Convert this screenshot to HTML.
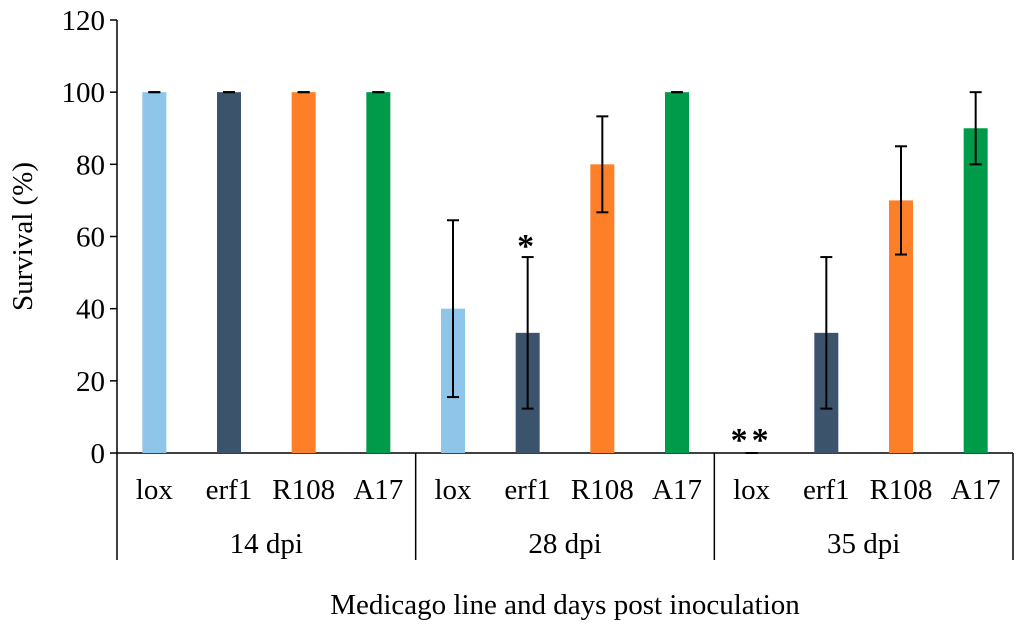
<!DOCTYPE html>
<html><head><meta charset="utf-8"><style>
body{margin:0;background:#fff;}
svg text{font-family:"Liberation Serif",serif;fill:#000;}
</style></head><body>
<svg id="chart" width="1024" height="625" xmlns="http://www.w3.org/2000/svg"></svg>
<script>
const groups = ["14 dpi","28 dpi","35 dpi"];
const lines = ["lox","erf1","R108","A17"];
const colors = ["#8ec5e8","#3b536b","#fd7f28","#009a4b"];
const values = [[100,100,100,100],[40,33.3,80,100],[0,33.3,70,90]];
const errors = [[0,0,0,0],[24.5,21,13.3,0],[0,21,15,10]];
const marks = [["","","",""],["","*","",""],["**","","",""]];
const yTicks = [0,20,40,60,80,100,120];

const svg = document.getElementById('chart');
const NS = "http://www.w3.org/2000/svg";
const x0 = 117, x1 = 1013, y0 = 453, yTop = 20, yMax = 120;
const y = v => y0 - v / yMax * (y0 - yTop);
const gW = (x1 - x0) / groups.length, sW = gW / lines.length, bw = 24;
const cx = (g, i) => x0 + g * gW + (i + 0.5) * sW;
function mk(tag, attrs, parent) {
  const e = document.createElementNS(NS, tag);
  for (const k in attrs) e.setAttribute(k, attrs[k]);
  (parent || svg).appendChild(e);
  return e;
}
function txt(s, x, yy, size, anchor, parent) {
  const t = mk('text', {x: x, y: yy, 'font-size': size, 'text-anchor': anchor || 'middle'}, parent);
  t.textContent = s;
  return t;
}
const FS = 29;
// y axis
const ya = mk('g', {});


mk('line', {x1: x0, y1: yTop, x2: x0, y2: y0, stroke: '#000', 'stroke-width': 1.5}, ya);
yTicks.forEach(v => {
  mk('line', {x1: x0 - 7, y1: y(v), x2: x0, y2: y(v), stroke: '#000', 'stroke-width': 1.5}, ya);
  txt(String(v), x0 - 12, y(v) + 10, FS, 'end', ya);
});
const yt = txt("Survival (%)", 0, 0, FS, 'middle');
yt.setAttribute('transform', 'translate(32,' + (y0 + yTop) / 2 + ') rotate(-90)');


// x axis
mk('line', {x1: x0, y1: y0, x2: x1, y2: y0, stroke: '#000', 'stroke-width': 1.5});
for (let g = 0; g <= groups.length; g++) {
  const d = mk('line', {x1: x0 + g * gW, y1: y0, x2: x0 + g * gW, y2: 560, stroke: '#000', 'stroke-width': 1.5});
  
  
}
groups.forEach((gname, g) => {
  const gl = txt(gname, x0 + (g + 0.5) * gW, 553, FS);
  
  
  lines.forEach((ln, i) => {
    const c = cx(g, i);
    const lb = txt(ln, c, 499, FS);
    
    
    const v = values[g][i], e = errors[g][i];
    const b = mk('rect', {x: c - bw / 2, y: y(v), width: bw, height: y0 - y(v), fill: colors[i]});
    
    
    const eb = mk('g', {stroke: '#000', 'stroke-width': 2});
    
    
    mk('line', {x1: c, y1: y(Math.max(0, v - e)), x2: c, y2: y(v + e)}, eb);
    mk('line', {x1: c - 6, y1: y(v + e), x2: c + 6, y2: y(v + e)}, eb);
    mk('line', {x1: c - 6, y1: y(Math.max(0, v - e)), x2: c + 6, y2: y(Math.max(0, v - e))}, eb);
    if (marks[g][i]) {
      const top = y(v + e);
      const m = txt(marks[g][i], c, top + (v > 0 ? 0 : -2), 34);
      m.setAttribute('font-family', '"Liberation Sans",sans-serif');
      m.setAttribute('font-weight', 'bold');
      m.setAttribute('letter-spacing', '4');
      
      
    }
  });
});
const xt = txt("Medicago line and days post inoculation", (x0 + x1) / 2, 614, FS);


</script>
</body></html>
